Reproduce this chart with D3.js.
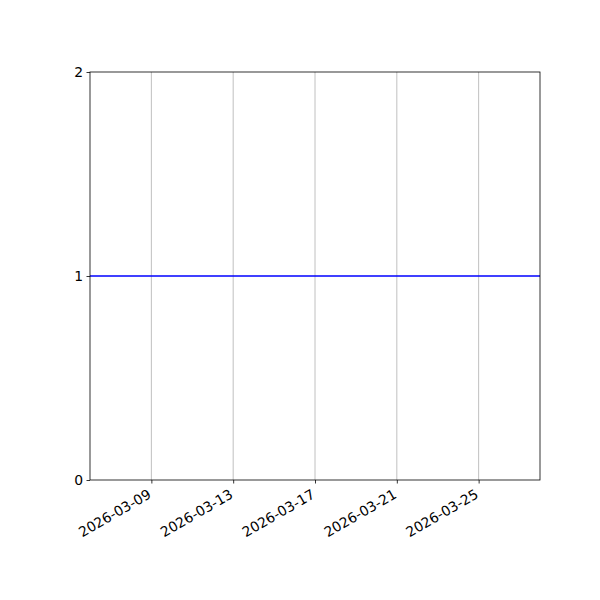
<!doctype html>
<html lang="en">
<head>
  <meta charset="utf-8">
  <title>line</title>
  <style>
  body { margin: 0; background: #fff; }
  text { font-family: "DejaVu Sans", sans-serif; }
  </style>
</head>
<body>
  <div id="chart"></div>
  <script src="https://d3js.org/d3.v7.min.js" charset="utf-8"></script>
<script>

// data
var dates = ["2026-03-06", "2026-03-07", "2026-03-08", "2026-03-09", "2026-03-10", "2026-03-11",
             "2026-03-12", "2026-03-13", "2026-03-14", "2026-03-15", "2026-03-16", "2026-03-17",
             "2026-03-18", "2026-03-19", "2026-03-20", "2026-03-21", "2026-03-22", "2026-03-23",
             "2026-03-24", "2026-03-25", "2026-03-26", "2026-03-27", "2026-03-28"];
var values = [1, 1, 1, 1, 1, 1, 1, 1, 1, 1, 1, 1, 1, 1, 1, 1, 1, 1, 1, 1, 1, 1, 1];
var xTicks = ["2026-03-09", "2026-03-13", "2026-03-17", "2026-03-21", "2026-03-25"];
var yTicks = [0, 1, 2];

var margin = {top: 72, right: 60, bottom: 120, left: 90},
    width = 600 - margin.left - margin.right,
    height = 600 - margin.top - margin.bottom;

var parse = d3.utcParse("%Y-%m-%d");
var fmt = d3.utcFormat("%Y-%m-%d");
var data = dates.map(function(d, i) { return {date: parse(d), value: values[i]}; });

var svg = d3.select("#chart").append("svg")
    .attr("width", 600)
    .attr("height", 600)
  .append("g")
    .attr("transform", "translate(" + margin.left + "," + margin.top + ")");

var x = d3.scaleUtc().domain(d3.extent(data, d => d.date)).range([0, width]);
var y = d3.scaleLinear().domain([0, 2]).range([height, 0]);

// vertical grid
svg.append("g")
  .selectAll("line").data(xTicks.map(parse)).enter()
  .append("line")
    .attr("x1", d => x(d)).attr("x2", d => x(d))
    .attr("y1", 0).attr("y2", height)
    .attr("stroke", "#b0b0b0")
    .attr("stroke-width", 0.8);

// line
svg.append("path")
    .datum(data)
    .attr("fill", "none")
    .attr("stroke", "#0000ff")
    .attr("stroke-width", 1.5)
    .attr("d", d3.line().x(d => x(d.date)).y(d => y(d.value)));

// frame
svg.append("rect")
    .attr("width", width).attr("height", height)
    .attr("fill", "none").attr("stroke", "#000").attr("stroke-width", 0.8);

// axes
var xAxis = svg.append("g")
    .attr("transform", "translate(0," + height + ")")
    .call(d3.axisBottom(x).tickValues(xTicks.map(parse)).tickFormat(fmt).tickSizeOuter(0).tickSize(3.5).tickPadding(3.5));
xAxis.select(".domain").remove();
xAxis.selectAll("line").attr("stroke-width", 0.8);
xAxis.selectAll("text")
    .attr("font-size", "13.9px")
    .attr("fill", "#000")
    .attr("text-anchor", "end")
    .attr("x", 0).attr("y", 0)
    .attr("dy", "0.76em")
    .attr("transform", "translate(-5,8)rotate(-30)");

var yAxis = svg.append("g")
    .call(d3.axisLeft(y).tickValues(yTicks).tickFormat(d3.format("d")).tickSizeOuter(0).tickSize(3.5).tickPadding(3.5));
yAxis.select(".domain").remove();
yAxis.selectAll("line").attr("stroke-width", 0.8);
yAxis.selectAll("text").attr("font-size", "13.9px").attr("fill", "#000");

</script>
</body>
</html>
